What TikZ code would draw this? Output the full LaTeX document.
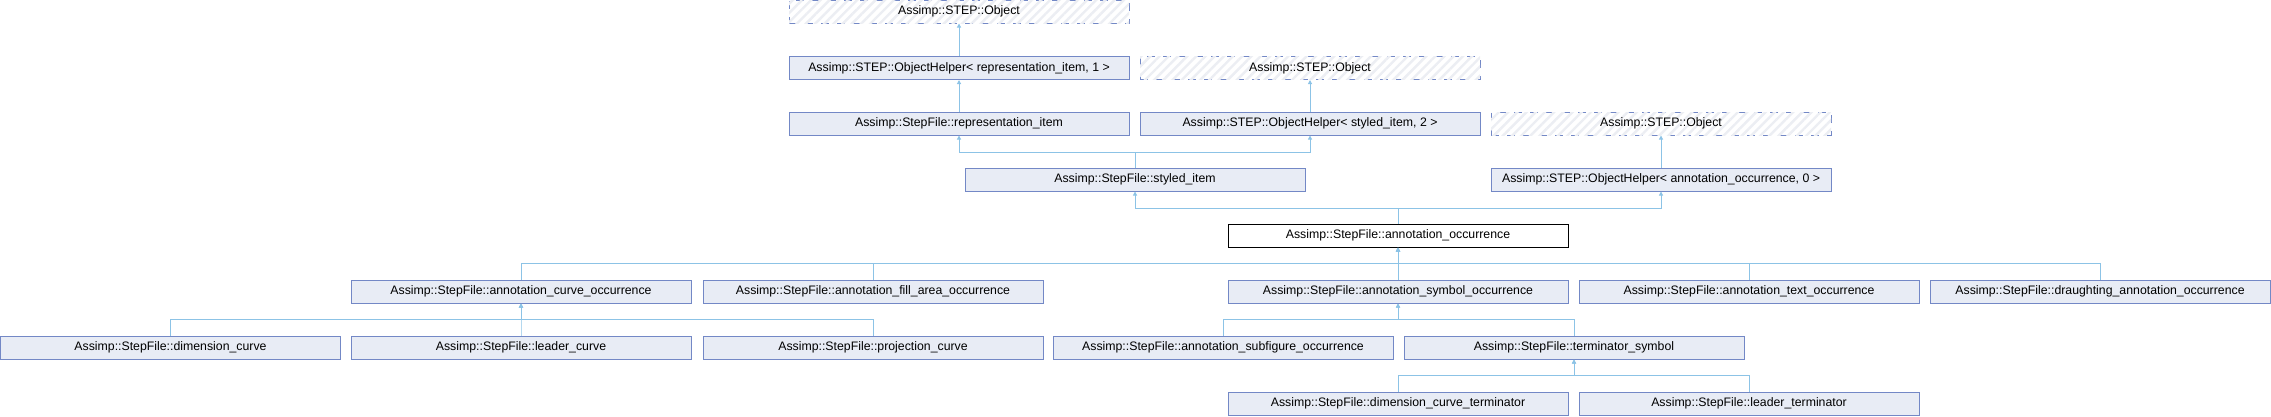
\documentclass[tikz,border=0pt]{standalone}
\usepackage{fontspec}
\setmainfont{Liberation Sans}
\usetikzlibrary{arrows.meta,patterns.meta}
\definecolor{boxfill}{HTML}{E8ECF5}
\definecolor{boxdraw}{HTML}{7388C6}
\definecolor{edgecol}{HTML}{8CC3E6}
\definecolor{hatchcol}{HTML}{ECEEF3}
\begin{document}
\begin{tikzpicture}[x=1bp,y=-1bp,
  cls/.style={rectangle,minimum width=340bp,minimum height=23bp,inner sep=0pt,
    draw=boxdraw,fill=boxfill,line width=1bp,
    font=\fontsize{12.3bp}{14bp}\selectfont},
  mainbox/.style={cls,draw=black,fill=white},
  undoc/.style={cls,fill=white,draw=boxdraw,dash pattern=on 8bp off 8bp,
    postaction={pattern={Lines[angle=45,distance=6.5bp,line width=2.4bp]},pattern color=hatchcol}},
  edge/.style={draw=edgecol,line width=1bp,-{Triangle[length=4bp,width=4bp]}}]
\useasboundingbox (0,0) rectangle (2271,416);
% row 1
\node[undoc] (objA) at (959,11.5) {Assimp::STEP::Object};
% row 2
\node[cls] (ohrep) at (959,68) {Assimp::STEP::ObjectHelper< representation\_item, 1 >};
\node[undoc] (objB) at (1310,68) {Assimp::STEP::Object};
% row 3
\node[cls] (rep) at (959,123.5) {Assimp::StepFile::representation\_item};
\node[cls] (ohsty) at (1310,123.5) {Assimp::STEP::ObjectHelper< styled\_item, 2 >};
\node[undoc] (objC) at (1661,123.5) {Assimp::STEP::Object};
% row 4
\node[cls] (sty) at (1135,179.5) {Assimp::StepFile::styled\_item};
\node[cls] (ohann) at (1661,179.5) {Assimp::STEP::ObjectHelper< annotation\_occurrence, 0 >};
% row 5
\node[mainbox] (ann) at (1398,235.5) {Assimp::StepFile::annotation\_occurrence};
% row 6
\node[cls] (curve) at (521,291.5) {Assimp::StepFile::annotation\_curve\_occurrence};
\node[cls] (fill) at (873,291.5) {Assimp::StepFile::annotation\_fill\_area\_occurrence};
\node[cls] (sym) at (1398,291.5) {Assimp::StepFile::annotation\_symbol\_occurrence};
\node[cls] (text) at (1749,291.5) {Assimp::StepFile::annotation\_text\_occurrence};
\node[cls] (draught) at (2100,291.5) {Assimp::StepFile::draughting\_annotation\_occurrence};
% row 7
\node[cls] (dimc) at (170.5,347.5) {Assimp::StepFile::dimension\_curve};
\node[cls] (leadc) at (521,347.5) {Assimp::StepFile::leader\_curve};
\node[cls] (projc) at (873,347.5) {Assimp::StepFile::projection\_curve};
\node[cls] (subfig) at (1223,347.5) {Assimp::StepFile::annotation\_subfigure\_occurrence};
\node[cls] (term) at (1574,347.5) {Assimp::StepFile::terminator\_symbol};
% row 8
\node[cls] (dimterm) at (1398,403.5) {Assimp::StepFile::dimension\_curve\_terminator};
\node[cls] (leadterm) at (1749,403.5) {Assimp::StepFile::leader\_terminator};
% edges
\draw[edge] (ohrep.north) -- (objA.south);
\draw[edge] (rep.north) -- (ohrep.south);
\draw[edge] (ohsty.north) -- (objB.south);
\draw[edge] (ohann.north) -- (objC.south);
\draw[edge] (sty.north) -- ++(0,-15) -| (rep.south);
\draw[edge] (sty.north) -- ++(0,-15) -| (ohsty.south);
\draw[edge] (ann.north) -- ++(0,-15) -| (sty.south);
\draw[edge] (ann.north) -- ++(0,-15) -| (ohann.south);
\foreach \c in {curve,fill,sym,text,draught}
  \draw[edge] (\c.north) -- ++(0,-16) -| (ann.south);
\foreach \c in {dimc,leadc,projc}
  \draw[edge] (\c.north) -- ++(0,-16) -| (curve.south);
\foreach \c in {subfig,term}
  \draw[edge] (\c.north) -- ++(0,-16) -| (sym.south);
\foreach \c in {dimterm,leadterm}
  \draw[edge] (\c.north) -- ++(0,-16) -| (term.south);
\end{tikzpicture}
\end{document}
